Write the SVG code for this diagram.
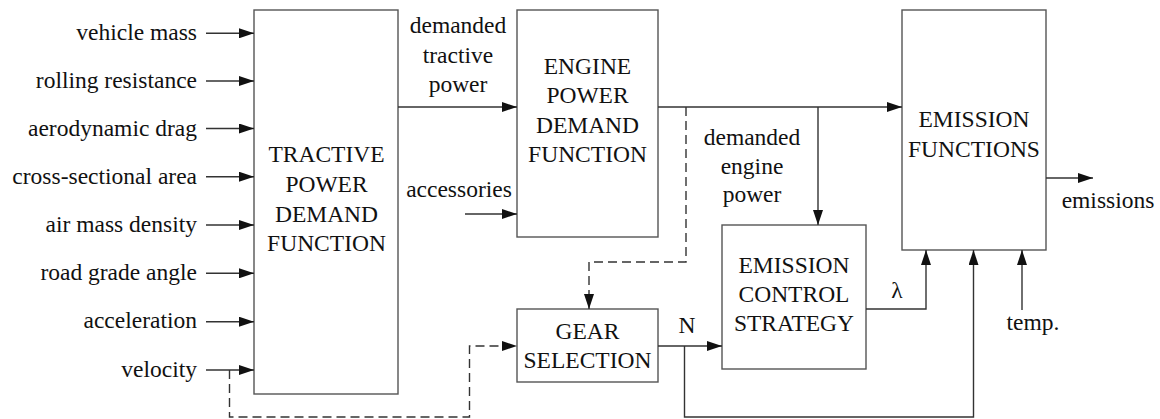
<svg xmlns="http://www.w3.org/2000/svg" width="1160" height="419" viewBox="0 0 1160 419" font-family="Liberation Serif, Times New Roman, serif">
<style>
text{font-size:23.5px;fill:#111}
.c{text-anchor:middle}
.r{text-anchor:end}
.box{fill:#fff;stroke:#555;stroke-width:1.4}
.ln{fill:none;stroke:#333;stroke-width:1.4}
.ar{marker-end:url(#ah)}
.d{stroke-dasharray:9,5}
</style>
<defs>
<marker id="ah" markerUnits="userSpaceOnUse" markerWidth="15" markerHeight="10" refX="15" refY="5" orient="auto">
<path d="M0,0 L15,5 L0,10 z" fill="#111"/>
</marker>
</defs>
<rect width="1160" height="419" fill="#fff"/>

<g id="tractive">
<rect class="box" x="254" y="10" width="144" height="384"/>
<text class="c" x="326.5" y="162">TRACTIVE</text>
<text class="c" x="326.5" y="192">POWER</text>
<text class="c" x="326.5" y="221.5">DEMAND</text>
<text class="c" x="326.5" y="251">FUNCTION</text>
</g>
<g id="engine">
<rect class="box" x="517" y="10" width="141" height="227"/>
<text class="c" x="587.5" y="74">ENGINE</text>
<text class="c" x="587.5" y="103">POWER</text>
<text class="c" x="587.5" y="133">DEMAND</text>
<text class="c" x="587.5" y="162">FUNCTION</text>
</g>
<g id="gear">
<rect class="box" x="517" y="309" width="141" height="73"/>
<text class="c" x="587.5" y="338.5">GEAR</text>
<text class="c" x="587.5" y="368">SELECTION</text>
</g>
<g id="control">
<rect class="box" x="722" y="225" width="144" height="144"/>
<text class="c" x="794" y="272.5">EMISSION</text>
<text class="c" x="794" y="301.5">CONTROL</text>
<text class="c" x="794" y="331">STRATEGY</text>
</g>
<g id="emission">
<rect class="box" x="902" y="10" width="144" height="240"/>
<text class="c" x="974" y="127">EMISSION</text>
<text class="c" x="974" y="157">FUNCTIONS</text>
</g>

<g id="inputs">
<text class="r" x="197" y="40">vehicle mass</text>
<text class="r" x="197" y="88">rolling resistance</text>
<text class="r" x="197" y="136">aerodynamic drag</text>
<text class="r" x="197" y="184">cross-sectional area</text>
<text class="r" x="197" y="232">air mass density</text>
<text class="r" x="197" y="280">road grade angle</text>
<text class="r" x="197" y="328">acceleration</text>
<text class="r" x="197" y="376.5">velocity</text>
</g>

<g id="labels">
<text class="c" x="458" y="33">demanded</text>
<text class="c" x="458" y="63">tractive</text>
<text class="c" x="458" y="92">power</text>
<text class="c" x="459" y="197">accessories</text>
<text class="c" x="752" y="145">demanded</text>
<text class="c" x="752" y="173.5">engine</text>
<text class="c" x="752" y="202">power</text>
<text class="c" x="1108" y="207.5">emissions</text>
<text class="c" x="687" y="333">N</text>
<text class="c" x="897" y="298">λ</text>
<text class="c" x="1033" y="330">temp.</text>
</g>

<g id="connectors">
<path class="ln ar" d="M206,33.3 H254"/>
<path class="ln ar" d="M206,81 H254"/>
<path class="ln ar" d="M206,128.5 H254"/>
<path class="ln ar" d="M206,176.7 H254"/>
<path class="ln ar" d="M206,225 H254"/>
<path class="ln ar" d="M206,273.3 H254"/>
<path class="ln ar" d="M206,321.7 H254"/>
<path class="ln ar" d="M206,370 H254"/>
<path class="ln ar" d="M398,107 H517"/>
<path class="ln ar" d="M465,214 H517"/>
<path class="ln ar" d="M658,107 H902"/>
<path class="ln ar" d="M818,107 V225"/>
<path class="ln ar d" d="M686,107 V262 H589 V309"/>
<path class="ln ar d" d="M229.5,370 V417 H469.5 V346 H517"/>
<path class="ln ar" d="M658,346 H722"/>
<path class="ln ar" d="M684.5,346 V417 H973.5 V250"/>
<path class="ln ar" d="M866,309 H926 V250"/>
<path class="ln ar" d="M1022,310 V250"/>
<path class="ln ar" d="M1046,178 H1093"/>
</g>
</svg>
